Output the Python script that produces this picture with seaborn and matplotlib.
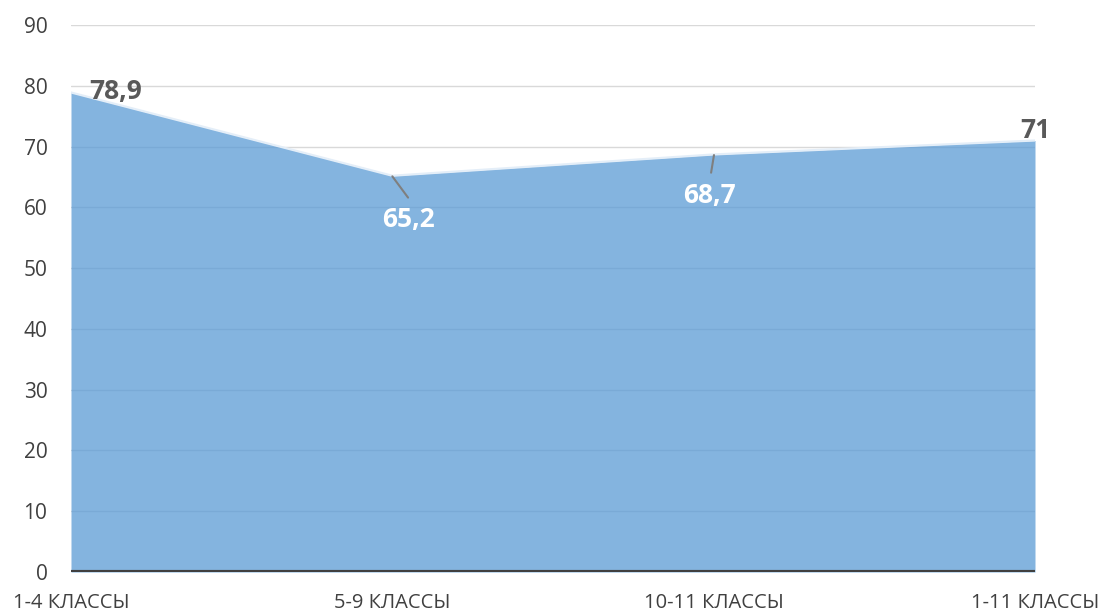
import matplotlib
matplotlib.use("Agg")
import matplotlib.pyplot as plt
import seaborn as sns
import pandas as pd

categories = ["1-4 КЛАССЫ", "5-9 КЛАССЫ", "10-11 КЛАССЫ", "1-11 КЛАССЫ"]
values = [78.9, 65.2, 68.7, 71.0]
value_labels = ["78,9", "65,2", "68,7", "71"]
y_ticks = [0, 10, 20, 30, 40, 50, 60, 70, 80, 90]

sns.set_theme(style="white")
plt.rcParams["font.family"] = ["Open Sans", "DejaVu Sans"]

df = pd.DataFrame({"x": range(len(categories)), "value": values})

fig = plt.figure(figsize=(11.04, 6.13), dpi=100)
ax = fig.add_axes([0.0643, 0.0669, 0.8732, 0.8923])

# horizontal gridlines behind the area
for t in y_ticks[1:]:
    ax.axhline(t, color="#d9d9d9", lw=1.0, zorder=0)

ax.fill_between(df["x"], 0, df["value"], color="#5B9BD5", alpha=0.75,
                linewidth=0, zorder=1)
sns.lineplot(data=df, x="x", y="value", ax=ax, color="#e4eef8", lw=1.6,
             zorder=2, legend=False)

ax.axhline(0, color="#404040", lw=3, zorder=3)

ax.set_xlim(0, len(categories) - 1)
ax.set_ylim(0, 90)
ax.set_yticks(y_ticks)
ax.set_yticklabels([str(t) for t in y_ticks], fontsize=15, color="#404040")
ax.set_xticks(range(len(categories)))
ax.set_xticklabels(categories, fontsize=14.5, color="#404040")
ax.tick_params(axis="y", length=0, pad=17)
ax.tick_params(axis="x", length=0, pad=15)
ax.set_xlabel("")
ax.set_ylabel("")
for s in ax.spines.values():
    s.set_visible(False)

# data labels
lab_fs = 19
ax.text(0.14, 79.0, value_labels[0], ha="center", va="center",
        fontsize=lab_fs, fontweight="bold", color="#595959", zorder=4)
ax.plot([1.0, 1.049], [values[1] - 0.1, 61.6], color="#7f7f7f", lw=1.5, zorder=4)
ax.text(1.049, 58.0, value_labels[1], ha="center", va="center",
        fontsize=lab_fs, fontweight="bold", color="white", zorder=4)
ax.plot([2.001, 1.992], [values[2] - 0.1, 65.7], color="#7f7f7f", lw=1.5, zorder=4)
ax.text(1.986, 62.0, value_labels[2], ha="center", va="center",
        fontsize=lab_fs, fontweight="bold", color="white", zorder=4)
ax.text(3.0, 72.7, value_labels[3], ha="center", va="center",
        fontsize=lab_fs, fontweight="bold", color="#595959", zorder=4,
        clip_on=False)

fig.savefig("out.png", dpi=100)
